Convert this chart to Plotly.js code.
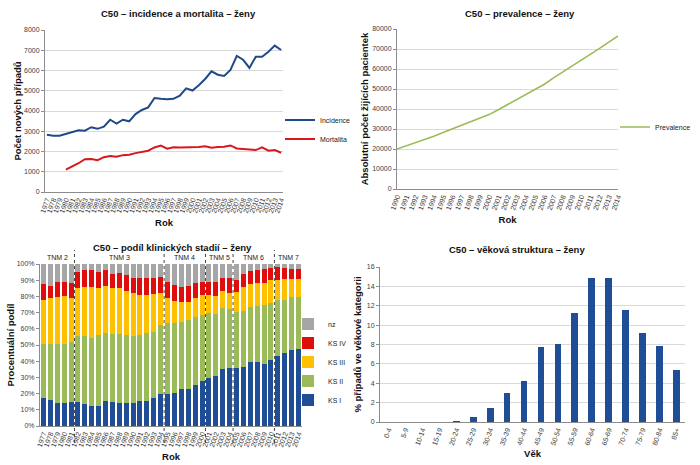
<!DOCTYPE html>
<html><head><meta charset="utf-8">
<script src="https://cdn.plot.ly/plotly-3.0.1.min.js"></script>
<style>html,body{margin:0;padding:0;background:#fff}#chart{width:700px;height:465px}</style>
</head><body><div id="chart"></div>
<script>
// ---- data ----
const years = ['1977','1978','1979','1980','1981','1982','1983','1984','1985','1986','1987','1988','1989','1990','1991','1992','1993','1994','1995','1996','1997','1998','1999','2000','2001','2002','2003','2004','2005','2006','2007','2008','2009','2010','2011','2012','2013','2014'];
const incidence = [2830,2780,2780,2860,2960,3050,3030,3200,3120,3230,3570,3380,3570,3490,3850,4050,4180,4640,4600,4580,4600,4760,5120,5010,5270,5580,5960,5790,5730,6030,6720,6530,6130,6680,6680,6930,7230,7010];
const mortality = [null,null,null,1100,1250,1420,1620,1630,1570,1720,1780,1740,1820,1840,1920,1970,2040,2200,2290,2140,2210,2200,2210,2200,2220,2260,2190,2220,2240,2300,2150,2120,2090,2070,2200,2040,2070,1940];

const prevYears = ['1990','1991','1992','1993','1994','1995','1996','1997','1998','1999','2000','2001','2002','2003','2004','2005','2006','2007','2008','2009','2010','2011','2012','2013','2014'];
const prevalence = [20000,21600,23100,24600,26400,28200,30000,31700,33400,35100,37200,39600,42200,44900,47400,49800,52400,55600,58500,61200,64300,67300,70300,73400,76500];

const ksI   = [17.5,16,14,14,15,15,13.4,12.6,12.6,15.4,14.6,14,14,14.4,15.6,15.6,17.1,19.8,19.5,20.2,22.6,22.6,25.3,27.8,29.5,30.9,35.2,35.6,35.8,36.5,39.5,39.5,38.5,41,43,45,47,47.5];
const ksII  = [32.9,34.4,36.4,36.4,36.6,40.8,42.4,41.9,43.6,41.8,42,42.8,42.2,41.2,40.6,41.6,41.1,42.5,43.9,43.2,41.8,42.8,42.2,40.7,40,38,37.6,36.8,34.4,34.5,34,34.5,36,35,34.5,33,32.5,32];
const ksIII = [27.4,28.4,29.4,30.1,27.6,29.6,29.8,31.5,28.8,29.4,28.4,28.2,27.1,26.3,24.7,23.7,23.1,20,15.8,13.8,11.9,11.3,11.7,12.4,11.4,11.6,10.3,9.8,12.3,14.5,14,14,14,14,12.5,12.5,11,11];
const ksIV  = [9.6,7.8,8.9,8.6,8.9,9.9,10.7,10.3,10.3,9.7,8.6,9.2,9.9,9.7,10.7,10.3,9.9,9.5,9.9,9.8,9.7,9.7,8.9,8.2,8.2,8.6,8.5,9,7.8,8.5,8,8,8.5,7.5,8,7,6.5,6.5];
const nz    = [12.6,13.4,11.3,10.9,11.9,4.7,3.7,3.7,4.7,3.7,6.4,5.8,6.8,8.4,8.4,8.8,8.8,8.2,10.9,13,14,13.6,11.9,10.9,10.9,10.9,8.4,8.8,9.7,6,4.5,4,3,2.5,2,2.5,3,3];
const tnmLabels = ['TNM 2','TNM 3','TNM 4','TNM 5','TNM 6','TNM 7'];
const tnmStart  = ['1977','1982','1995','2001','2005','2011'];
const tnmEnd    = ['1981','1994','2000','2004','2010','2014'];

const ageGroups = ['0-4','5-9','10-14','15-19','20-24','25-29','30-34','35-39','40-44','45-49','50-54','55-59','60-64','65-69','70-74','75-79','80-84','85+'];
const ageShare  = [0,0,0,0,0.1,0.5,1.4,3.0,4.25,7.7,8.1,11.25,14.9,14.85,11.55,9.2,7.85,5.4];

// ---- styles ----
const FONT = 'Liberation Sans, Arial, sans-serif';
const cBlue = '#1f4a87', cRed = '#d7191c', cGreen = '#9bbb59';
const cKS1 = '#1f4e96', cKS2 = '#9bbb59', cKS3 = '#ffc000', cKS4 = '#e00d0d', cNZ = '#a6a6a6';
const W = 700, H = 465;
const px = v => v / W, py = v => (H - v) / H;

const traces = [
  {type:'scatter', mode:'lines', name:'Incidence', x:years, y:incidence, xaxis:'x', yaxis:'y', line:{color:cBlue, width:2}, legend:'legend'},
  {type:'scatter', mode:'lines', name:'Mortalita', x:years, y:mortality, xaxis:'x', yaxis:'y', line:{color:cRed, width:2}, legend:'legend'},
  {type:'scatter', mode:'lines', name:'Prevalence', x:prevYears, y:prevalence, xaxis:'x2', yaxis:'y2', line:{color:cGreen, width:1.6}, legend:'legend2'},
  {type:'bar', name:'KS I', x:years, y:ksI, xaxis:'x3', yaxis:'y3', marker:{color:cKS1}, legend:'legend3', legendrank:5},
  {type:'bar', name:'KS II', x:years, y:ksII, xaxis:'x3', yaxis:'y3', marker:{color:cKS2}, legend:'legend3', legendrank:4},
  {type:'bar', name:'KS III', x:years, y:ksIII, xaxis:'x3', yaxis:'y3', marker:{color:cKS3}, legend:'legend3', legendrank:3},
  {type:'bar', name:'KS IV', x:years, y:ksIV, xaxis:'x3', yaxis:'y3', marker:{color:cKS4}, legend:'legend3', legendrank:2},
  {type:'bar', name:'nz', x:years, y:nz, xaxis:'x3', yaxis:'y3', marker:{color:cNZ}, legend:'legend3', legendrank:1},
  {type:'bar', name:'Věk', x:ageGroups, y:ageShare, xaxis:'x4', yaxis:'y4', marker:{color:cKS1}, width:0.4, showlegend:false}
];

const tickF = {family:FONT, size:7, color:'#404040'};
const axTitleF = {family:FONT, size:9.5, color:'#111'};
function xa(domain, anchor, range, title, standoff){
  return {domain, anchor, type:'category', range, tickangle:-70, tickfont:tickF, tickmode:'linear', dtick:1,
    showline:true, linecolor:'#8c8c8c', linewidth:1, showgrid:false, ticks:'', zeroline:false,
    title:{text:'<b>'+title+'</b>', font:axTitleF, standoff}, automargin:false, fixedrange:true};
}
function ya(domain, anchor, range, dtick, title, grid, standoff, extra){
  return Object.assign({domain, anchor, range, dtick, tickfont:tickF, showline:true, linecolor:'#8c8c8c', linewidth:1,
    ticks:'outside', ticklen:3, tickcolor:'#8c8c8c', showgrid:grid, gridcolor:'#d9d9d9', zeroline:false,
    title:{text:'<b>'+title+'</b>', font:axTitleF, standoff}, automargin:false, fixedrange:true}, extra||{});
}

const shapes = [];
const annotations = [];
for (let i = 1; i < tnmStart.length; i++) {
  const idx = years.indexOf(tnmStart[i]) - 0.5;
  shapes.push({type:'line', xref:'x3', yref:'paper', x0:idx, x1:idx, y0:py(443), y1:py(250),
    line:{color:'#444', width:1, dash:'dot'}});
}
for (let i = 0; i < tnmLabels.length; i++) {
  const c = (years.indexOf(tnmStart[i]) + years.indexOf(tnmEnd[i])) / 2;
  annotations.push({xref:'x3', yref:'paper', x:c, y:py(257.5), text:tnmLabels[i], showarrow:false,
    font:{family:FONT, size:7, color:'#222'}, xanchor:'center', yanchor:'middle'});
}
const titleF = {family:FONT, size:9.5, color:'#111'};
[['C50 – incidence a mortalita – ženy',178,13.5],['C50 – prevalence – ženy',520,13.5],
 ['C50 – podíl klinických stadií – ženy',172,247.5],['C50 – věková struktura – ženy',517,250]].forEach(t=>{
  annotations.push({xref:'paper', yref:'paper', x:px(t[1]), y:py(t[2]), text:'<b>'+t[0]+'</b>', showarrow:false,
    font:titleF, xanchor:'center', yanchor:'middle'});
});

const legF = {family:FONT,size:7,color:'#222'};
const layout = {
  width:W, height:H, margin:{l:0,r:0,t:0,b:0}, paper_bgcolor:'#fff', plot_bgcolor:'#fff',
  font:{family:FONT, size:7, color:'#404040'},
  barmode:'stack', bargap:0.28,
  xaxis: xa([px(45),px(283)], 'y', [-0.3,37.3], 'Rok', 6),
  yaxis: ya([py(192),py(30)], 'x', [0,8000], 1000, 'Počet nových případů', true, 0),
  xaxis2: xa([px(397),px(618)], 'y2', [0,24], 'Rok', 6),
  yaxis2: ya([py(189),py(29)], 'x2', [0,80000], 10000, 'Absolutní počet žijících pacientek', true, 1, {tickformat:'d'}),
  xaxis3: xa([px(40),px(302)], 'y3', [-0.5,37.5], 'Rok', 6),
  yaxis3: ya([py(426),py(264)], 'x3', [0,100], 10, 'Procentuální podíl', false, 0, {ticksuffix:'%'}),
  xaxis4: xa([px(380),px(685)], 'y4', [-0.5,17.5], 'Věk', 5),
  yaxis4: ya([py(422),py(267)], 'x4', [0,16], 2, '% případů ve věkové kategorii', true, 3),
  legend:{x:px(280), y:py(129.5), xanchor:'left', yanchor:'middle', font:legF, bgcolor:'rgba(0,0,0,0)', itemwidth:30, traceorder:'normal'},
  legend2:{x:px(615), y:py(127), xanchor:'left', yanchor:'middle', font:legF, bgcolor:'rgba(0,0,0,0)', itemwidth:30, traceorder:'normal'},
  legend3:{x:px(288), y:py(362), xanchor:'left', yanchor:'middle', font:legF, bgcolor:'rgba(0,0,0,0)', itemwidth:30, traceorder:'normal'},
  shapes, annotations
};
Plotly.newPlot('chart', traces, layout, {displayModeBar:false, staticPlot:true});
</script>
</body></html>
